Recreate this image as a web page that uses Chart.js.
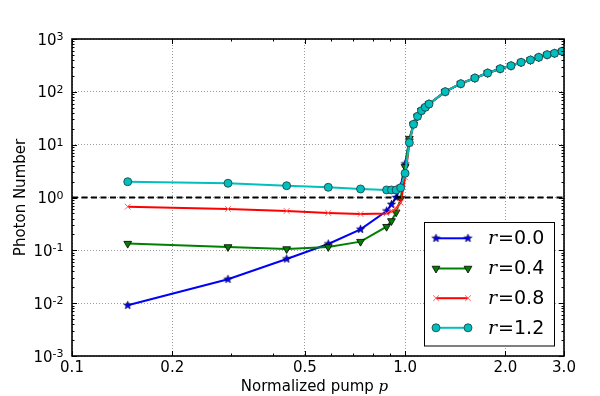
<!DOCTYPE html>
<html><head><meta charset="utf-8">
<script src="https://cdn.jsdelivr.net/npm/chart.js@4.4.1/dist/chart.umd.min.js"></script>
<style>html,body{margin:0;padding:0;background:#fff}#wrap{width:600px;height:396px;position:relative}</style>
</head><body><div id="wrap"><canvas id="c" width="600" height="396"></canvas></div>
<script>
// ---- data ----
const pump = [0.147,0.294,0.441,0.588,0.735,0.88,0.91,0.94,0.97,1.0,1.03,1.06,1.09,1.12,1.15,1.18,1.32,1.47,1.62,1.77,1.93,2.08,2.23,2.38,2.52,2.67,2.81,2.96];
const photonR00 = [0.0091,0.0283,0.0686,0.132,0.25,0.555,0.74,1.0,1.6,4.3,12,24.3,34.4,44,51,58.9,100.7,142.6,182.8,227.4,274,312,362,401,451,505,537,586];
const photonR04 = [0.134,0.116,0.106,0.116,0.146,0.28,0.36,0.525,0.95,3.8,13,24.3,34.4,44,51,58.9,100.7,142.6,182.8,227.4,274,312,362,401,451,505,537,586];
const photonR08 = [0.67,0.606,0.555,0.509,0.487,0.50,0.54,0.62,0.80,2.4,10.5,24.3,34.4,44,51,58.9,100.7,142.6,182.8,227.4,274,312,362,401,451,505,537,586];
const photonR12 = [1.99,1.86,1.67,1.56,1.45,1.39,1.39,1.39,1.53,2.87,10.9,24.3,34.4,44,51,58.9,100.7,142.6,182.8,227.4,274,312,362,401,451,505,537,586];
const seriesLabels = ['0.0','0.4','0.8','1.2'];
const xTickValues = [0.1,0.2,0.5,1.0,2.0,3.0];
const xTickLabels = ['0.1','0.2','0.5','1.0','2.0','3.0'];
const yTickExponents = [-3,-2,-1,0,1,2,3];
const thresholdLevel = 1;

// ---- marker images ----
function starImg(fill, edge, R){
  const s = Math.ceil(R*2+4), c = document.createElement('canvas'); c.width=s; c.height=s;
  const g = c.getContext('2d'); const cx=s/2, cy=s/2, r=R*0.42;
  g.beginPath();
  for(let i=0;i<10;i++){const a=-Math.PI/2+i*Math.PI/5; const rr=i%2?r:R; g.lineTo(cx+rr*Math.cos(a), cy+rr*Math.sin(a));}
  g.closePath(); g.fillStyle=fill; g.fill(); g.lineWidth=0.7; g.strokeStyle=edge; g.stroke();
  return c;
}
const star = starImg('#0000ff','#000040',4.2);

const pts = (ys)=>pump.map((p,i)=>({x:p,y:ys[i]}));
const datasets = [
  {label:'r=0.0', data:pts(photonR00), borderColor:'#0000ff', backgroundColor:'#0000ff', borderWidth:2, pointStyle:star, pointRadius:4, order:4},
  {label:'r=0.4', data:pts(photonR04), borderColor:'#008000', backgroundColor:'#008000', pointBorderColor:'#000', pointBorderWidth:0.8, borderWidth:2, pointStyle:'triangle', rotation:180, pointRotation:180, pointRadius:4.5, order:3},
  {label:'r=0.8', data:pts(photonR08), borderColor:'#ff0000', backgroundColor:'#ff0000', pointBorderColor:'#ff6060', pointBorderWidth:1, borderWidth:2, pointStyle:'crossRot', pointRadius:4, order:2},
  {label:'r=1.2', data:pts(photonR12), borderColor:'#00bfbf', backgroundColor:'#00bfbf', pointBorderColor:'#1a3a3a', pointBorderWidth:0.8, borderWidth:2, pointStyle:'circle', pointRadius:4, order:1},
  {label:'threshold', data:[{x:0.1,y:thresholdLevel},{x:3.0,y:thresholdLevel}], borderColor:'#000', borderWidth:2, borderDash:[6,3.5], pointRadius:0, order:0}
];

const sans = '"DejaVu Sans", sans-serif';
const deco = {
  id:'deco',
  afterDraw(chart){
    const ctx = chart.ctx, a = chart.chartArea, xs = chart.scales.x, ys = chart.scales.y;
    ctx.save();
    // ticks
    ctx.strokeStyle='#000'; ctx.lineWidth=1;
    const tickY=(v,len)=>{const y=Math.round(ys.getPixelForValue(v))+0.5; ctx.beginPath(); ctx.moveTo(a.left,y); ctx.lineTo(a.left+len,y); ctx.moveTo(a.right,y); ctx.lineTo(a.right-len,y); ctx.stroke();};
    const tickX=(v,len)=>{const x=Math.round(xs.getPixelForValue(v))+0.5; ctx.beginPath(); ctx.moveTo(x,a.bottom); ctx.lineTo(x,a.bottom-len); ctx.moveTo(x,a.top); ctx.lineTo(x,a.top+len); ctx.stroke();};
    yTickExponents.forEach(e=>{ tickY(Math.pow(10,e),5); if(e<3){for(let m=2;m<10;m++) tickY(m*Math.pow(10,e),2.5);} });
    xTickValues.forEach(v=>tickX(v,5));
    [0.3,0.4,0.6,0.7,0.8,0.9].forEach(v=>tickX(v,2.5));
    // frame
    ctx.lineWidth=1.6; ctx.strokeRect(a.left,a.top,a.right-a.left,a.bottom-a.top);
    // x tick labels
    ctx.fillStyle='#000'; ctx.font='15px '+sans; ctx.textAlign='center'; ctx.textBaseline='alphabetic';
    xTickValues.forEach((v,i)=>ctx.fillText(xTickLabels[i], xs.getPixelForValue(v), 372));
    // y tick labels
    yTickExponents.forEach(e=>{
      const y = ys.getPixelForValue(Math.pow(10,e));
      const ex = String(e);
      ctx.font='11px '+sans; const we = ctx.measureText(ex).width;
      ctx.textAlign='left'; ctx.textBaseline='alphabetic';
      ctx.fillText(ex, 63.5-we, y+1);
      ctx.font='15px '+sans; ctx.textAlign='right';
      ctx.fillText('10', 63.5-we, y+5.5);
    });
    // axis titles
    ctx.font='15px '+sans; ctx.textAlign='left';
    const t1='Normalized pump '; const w1=ctx.measureText(t1).width;
    ctx.font='italic 15px "DejaVu Serif", serif'; const w2=ctx.measureText('p').width;
    const x0 = 314.5-(w1+w2)/2;
    ctx.font='15px '+sans; ctx.fillText(t1,x0,391);
    ctx.font='italic 15px "DejaVu Serif", serif'; ctx.fillText('p',x0+w1,391);
    ctx.save(); ctx.translate(25,(a.top+a.bottom)/2); ctx.rotate(-Math.PI/2);
    ctx.font='15px '+sans; ctx.textAlign='center'; ctx.fillText('Photon Number',0,0); ctx.restore();
    // legend
    const lx=424.5, ly=222.5, lw=130, lh=123.5;
    ctx.fillStyle='#fff'; ctx.fillRect(lx,ly,lw,lh);
    ctx.strokeStyle='#000'; ctx.lineWidth=1; ctx.strokeRect(lx,ly,lw,lh);
    const rows=[238.3,268.5,298.2,327.8];
    chart.data.datasets.slice(0,4).forEach((ds,i)=>{
      const y=rows[i];
      ctx.save(); ctx.strokeStyle=ds.borderColor; ctx.lineWidth=ds.borderWidth; ctx.setLineDash([]);
      ctx.beginPath(); ctx.moveTo(436,y); ctx.lineTo(468,y); ctx.stroke(); ctx.restore();
      const opt={pointStyle:ds.pointStyle, radius:ds.pointRadius, rotation:ds.pointRotation||0, borderWidth:ds.pointBorderWidth||1};
      [436,468].forEach(px=>{
        ctx.save(); ctx.fillStyle=ds.backgroundColor; ctx.strokeStyle=ds.pointBorderColor||ds.borderColor; ctx.lineWidth=opt.borderWidth;
        Chart.helpers.drawPoint(ctx,opt,px,y); ctx.restore();
      });
      ctx.fillStyle='#000'; ctx.textAlign='left'; ctx.textBaseline='middle';
      ctx.font='italic 19px "DejaVu Serif", serif'; ctx.fillText('r',488,y+1);
      const wr=ctx.measureText('r').width;
      ctx.font='19px '+sans; ctx.fillText('='+seriesLabels[i],488+wr+1,y+1);
    });
    ctx.restore();
  }
};

new Chart(document.getElementById('c'),{
  type:'line',
  data:{datasets},
  options:{
    responsive:false, animation:false, devicePixelRatio:1,
    layout:{padding:{left:72,right:36,top:39,bottom:40}},
    elements:{line:{tension:0}},
    plugins:{legend:{display:false},tooltip:{enabled:false}},
    scales:{
      x:{type:'logarithmic',min:0.1,max:3.0,
         afterBuildTicks:s=>{s.ticks=xTickValues.map(v=>({value:v}));},
         ticks:{display:false}, grid:{color:'#9a9a9a',lineWidth:1,drawTicks:false}, border:{display:false,dash:[1,2]}},
      y:{type:'logarithmic',min:1e-3,max:1e3,
         afterBuildTicks:s=>{s.ticks=yTickExponents.map(e=>({value:Math.pow(10,e)}));},
         ticks:{display:false}, grid:{color:'#9a9a9a',lineWidth:1,drawTicks:false}, border:{display:false,dash:[1,2]}}
    }
  },
  plugins:[deco]
});
</script>
</body></html>
